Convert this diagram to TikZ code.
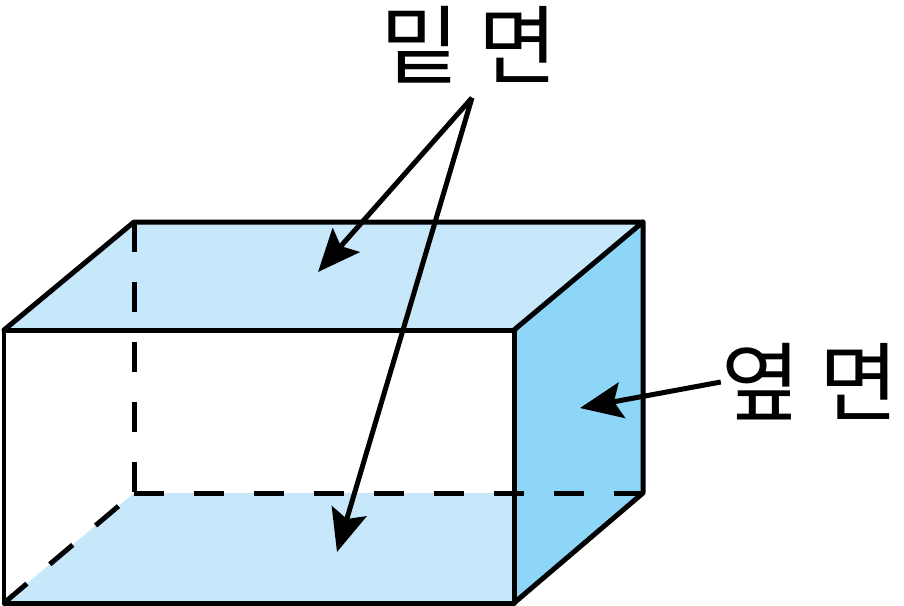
\documentclass[tikz,border=0pt]{standalone}
\usepackage{fontspec}
\usetikzlibrary{arrows.meta}
\newfontfamily\krfont{Noto Sans CJK KR}
\definecolor{facelight}{HTML}{C7E7FB}
\definecolor{facedark}{HTML}{8ED6F8}
\tikzset{
	edgeline/.style={line width=0.1cm, line join=round, line cap=round},
	hiddenline/.style={line width=0.1cm, dash pattern=on 0.6cm off 0.6cm},
	pointer/.style={line width=0.1cm, -{Stealth[length=0.85cm, width=0.72cm, inset=0.16cm]}},
	facelabel/.style={inner sep=0pt, font=\krfont\fontsize{49}{49}\selectfont}
}
\begin{document}
\begin{tikzpicture}[x=0.02cm, y=-0.02cm]
	\useasboundingbox (0,0) rectangle (904,606);
	\coordinate (f-1) at (4,330);
	\coordinate (f-2) at (514,330);
	\coordinate (f-3) at (514,603);
	\coordinate (f-4) at (4,603);
	\coordinate (b-1) at (134,222);
	\coordinate (b-2) at (643,222);
	\coordinate (b-3) at (643,493);
	\coordinate (b-4) at (134,493);
	\fill[facelight] (f-1) -- (b-1) -- (b-2) -- (f-2) -- cycle;
	\fill[facelight] (f-4) -- (b-4) -- (b-3) -- (f-3) -- cycle;
	\fill[facedark] (f-2) -- (b-2) -- (b-3) -- (f-3) -- cycle;
	\draw[hiddenline] (b-1) -- (b-4);
	\draw[hiddenline] (b-4) -- (b-3);
	\draw[hiddenline] (f-4) -- (b-4);
	\draw[edgeline] (f-1) -- (f-2) -- (f-3) -- (f-4) -- cycle;
	\draw[edgeline] (f-1) -- (b-1) -- (b-2) -- (f-2);
	\draw[edgeline] (b-2) -- (b-3) -- (f-3);
	\node[facelabel, minimum height=2.1cm] (base) at (469,45) {밑 면};
	\node[facelabel] (side) at (810,382) {옆 면};
	\coordinate (topface) at (318,272);
	\coordinate (botface) at (337,552);
	\coordinate (sideface) at (580,408);
	\path[pointer]
	([xshift=0.06cm]base.south) edge (topface)
				 edge (botface)
	(side.west) edge (sideface);
\end{tikzpicture}
\end{document}
